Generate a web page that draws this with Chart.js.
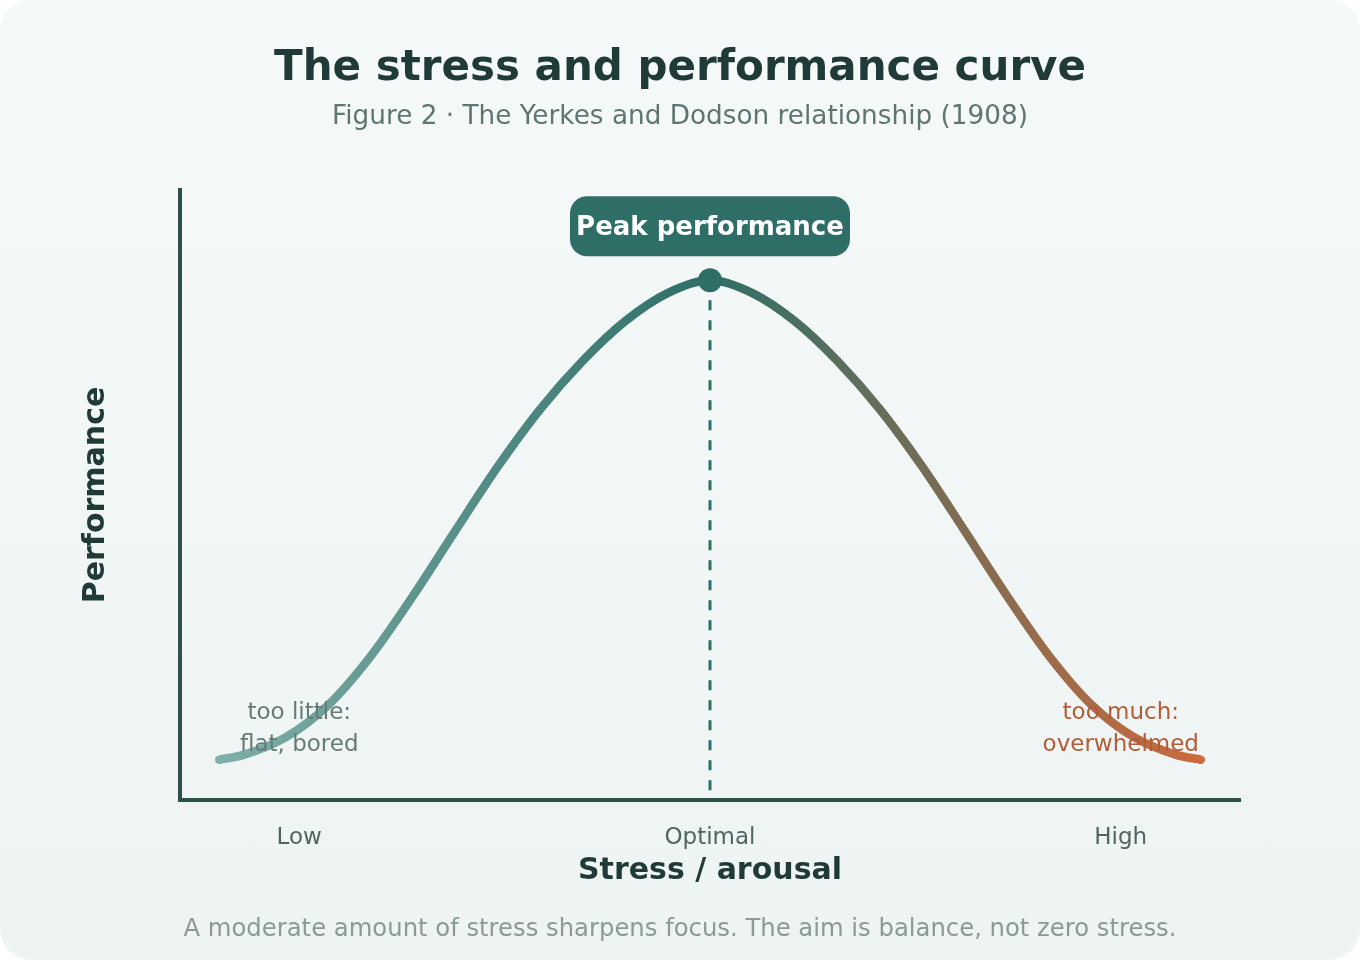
<!DOCTYPE html>
<html>
<head>
<meta charset="utf-8">
<title>The stress and performance curve</title>
<script src="https://cdn.jsdelivr.net/npm/chart.js@4.4.1/dist/chart.umd.min.js"></script>
<style>
  html, body { margin: 0; padding: 0; background: #ffffff; }
  .card {
    position: relative;
    width: 1360px;
    height: 960px;
    border-radius: 32px;
    overflow: hidden;
    background: linear-gradient(180deg, #f5f9f9 0%, #eef4f3 100%);
    font-family: "DejaVu Sans", sans-serif;
  }
  .card canvas { position: absolute; left: 0; top: 0; }
  .footer {
    position: absolute;
    left: 0;
    width: 1360px;
    top: 913px;
    line-height: 30px;
    text-align: center;
    font-size: 24.3px;
    color: #8a9a97;
  }
</style>
</head>
<body>
<div class="card">
  <canvas id="curveChart" width="1360" height="960"></canvas>
  <div class="footer">A moderate amount of stress sharpens focus. The aim is balance, not zero stress.</div>
</div>
<script>
// stress level (0-100) and performance (0-100)
const stressLevels = [3.7, 6, 10, 14, 18, 22, 26, 30, 34, 38, 42, 46, 50, 54, 58, 62, 66, 70, 74, 78, 82, 86, 90, 94, 96.3];
const performance = [6.6, 7.4, 10.3, 15.6, 23.6, 33.5, 44.2, 54.7, 64.1, 72.0, 78.5, 83.1, 85.2, 83.1, 78.5, 72.0, 64.1, 54.7, 44.2, 33.5, 23.6, 15.6, 10.3, 7.4, 6.6];

const tickValues = [11.25, 50, 88.75];
const tickLabels = ['Low', 'Optimal', 'High'];

const noteLines = [['too little:', 'flat, bored'], ['too much:', 'overwhelmed']];

const peakIndex = performance.indexOf(Math.max(...performance));
const peakX = stressLevels[peakIndex];
const peakY = performance[peakIndex];

const teal = '#2e6e67';
const font = '"DejaVu Sans", sans-serif';

function curveGradient(context) {
  const chart = context.chart;
  if (!chart.chartArea) return teal;
  const xs = chart.scales.x;
  const x0 = xs.getPixelForValue(stressLevels[0]);
  const x1 = xs.getPixelForValue(stressLevels[stressLevels.length - 1]);
  const g = chart.ctx.createLinearGradient(x0, 0, x1, 0);
  g.addColorStop(0, '#80aea8');
  g.addColorStop(0.5, '#2e6f68');
  g.addColorStop(1, '#cd6a3e');
  return g;
}

const annotations = {
  id: 'annotations',
  afterDatasetsDraw(chart) {
    const {ctx, scales: {x, y}} = chart;
    ctx.save();

    // zone notes
    ctx.font = '23px ' + font;
    ctx.textAlign = 'center';
    ctx.textBaseline = 'middle';
    const noteColors = ['#667b77', '#b35c36'];
    [tickValues[0], tickValues[2]].forEach((v, i) => {
      ctx.fillStyle = noteColors[i];
      const px = x.getPixelForValue(v);
      ctx.fillText(noteLines[i][0], px, y.getPixelForValue(0) - 87);
      ctx.fillText(noteLines[i][1], px, y.getPixelForValue(0) - 55);
    });

    // peak badge
    const px = x.getPixelForValue(peakX);
    const py = y.getPixelForValue(peakY);
    const w = 280, h = 60, bottom = py - 24;
    ctx.fillStyle = teal;
    ctx.beginPath();
    ctx.roundRect(px - w / 2, bottom - h, w, h, 17);
    ctx.fill();
    ctx.fillStyle = '#ffffff';
    ctx.font = 'bold 26px ' + font;
    ctx.fillText('Peak performance', px, bottom - h / 2 + 2);
    ctx.restore();
  }
};

new Chart(document.getElementById('curveChart'), {
  type: 'line',
  data: {
    datasets: [
      {
        label: 'Peak',
        data: [{x: peakX, y: peakY}],
        showLine: false,
        pointRadius: 12,
        pointBackgroundColor: teal,
        pointBorderWidth: 0
      },
      {
        label: 'Performance',
        data: stressLevels.map((s, i) => ({x: s, y: performance[i]})),
        borderColor: curveGradient,
        borderWidth: 8.5,
        borderCapStyle: 'round',
        cubicInterpolationMode: 'monotone',
        pointRadius: 0,
        fill: false
      },
      {
        label: 'Optimal',
        data: [{x: peakX, y: 1.6}, {x: peakX, y: peakY}],
        borderColor: teal,
        borderWidth: 3,
        borderDash: [10, 10],
        pointRadius: 0,
        fill: false
      }
    ]
  },
  options: {
    responsive: false,
    animation: false,
    layout: { padding: { left: 0, right: 0, top: 0, bottom: 60 } },
    plugins: {
      legend: { display: false },
      tooltip: { enabled: false },
      title: {
        display: true,
        text: 'The stress and performance curve',
        color: '#1f3a37',
        font: { family: font, size: 42, weight: 'bold' },
        padding: { top: 44, bottom: 0 }
      },
      subtitle: {
        display: true,
        text: 'Figure 2 · The Yerkes and Dodson relationship (1908)',
        color: '#5f7572',
        font: { family: font, size: 26.3 },
        padding: { top: 7, bottom: 57 }
      }
    },
    scales: {
      x: {
        type: 'linear',
        min: 0,
        max: 100,
        afterBuildTicks: (scale) => { scale.ticks = tickValues.map(v => ({value: v})); },
        afterFit: (scale) => { scale.height = 100; },
        ticks: {
          autoSkip: false,
          maxRotation: 0,
          padding: 24,
          color: '#4f6662',
          font: { family: font, size: 23 },
          callback: (value, index) => tickLabels[index]
        },
        grid: { display: false, drawTicks: false },
        border: { display: true, color: '#2f4f4b', width: 4 },
        title: {
          display: true,
          text: 'Stress / arousal',
          color: '#1f3a37',
          font: { family: font, size: 30, weight: 'bold' },
          padding: { top: 0, bottom: 11 }
        }
      },
      y: {
        type: 'linear',
        min: 0,
        max: 100,
        afterFit: (scale) => { scale.width = 180; },
        ticks: { display: false },
        grid: { display: false, drawTicks: false },
        border: { display: true, color: '#2f4f4b', width: 4 },
        title: {
          display: true,
          text: 'Performance',
          color: '#1f3a37',
          font: { family: font, size: 30, weight: 'bold' },
          padding: { top: 78, bottom: 0 }
        }
      },
      // empty right margin so the titles centre on the whole card
      yRight: {
        type: 'linear',
        position: 'right',
        display: true,
        afterFit: (scale) => { scale.width = 120; },
        ticks: { display: false },
        grid: { display: false, drawTicks: false },
        border: { display: false }
      }
    }
  },
  plugins: [annotations]
});
</script>
</body>
</html>
